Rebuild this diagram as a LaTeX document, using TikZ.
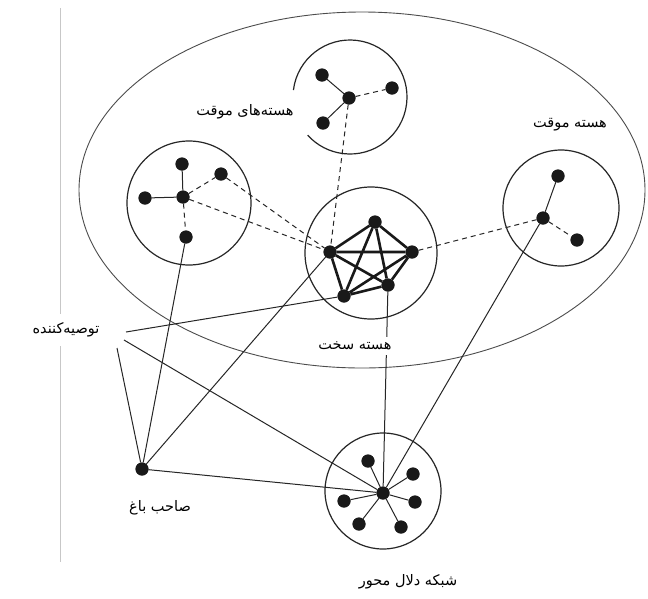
\documentclass[tikz,border=0pt]{standalone}
\usepackage{fontspec}
\TeXXeTstate=1
\newfontfamily\arabicfont[Script=Arabic]{DejaVu Sans}
\begin{document}
\begin{tikzpicture}[x=1pt,y=-1pt,
  dot/.style={circle,fill=black!90,inner sep=0pt,minimum size=13pt},
  edge/.style={line width=1pt,black!85},
  dashedge/.style={line width=1pt,black!85,dash pattern=on 5pt off 4pt},
  coreedge/.style={line width=2.6pt,black!90},
  ring/.style={line width=1.2pt,black!85},
  lbl/.style={fill=white,inner xsep=6pt,inner ysep=5pt,font=\arabicfont\fontsize{14.5}{17}\selectfont}
]
\useasboundingbox (0,0) rectangle (648,598);
\fill[white] (0,0) rectangle (648,598);
% faint frame line
\draw[black!22,line width=0.8pt] (60,8) -- (60,562);
% big ellipse
\draw[black!70,line width=0.9pt] (362,190) ellipse [x radius=283, y radius=178];
% cluster rings
\draw[ring] (350,97) ++(187:57) arc[start angle=187, end angle=498, radius=57];
\draw[ring] (189,203) circle [radius=62];
\draw[ring] (371,253) circle [radius=66];
\draw[ring] (561,208) circle [radius=58];
\draw[ring] (383,491) circle [radius=58];

% nodes: top temporary core
\node[dot] (t0) at (349,98) {};
\node[dot] (t1) at (322,75) {};
\node[dot] (t2) at (392,88) {};
\node[dot] (t3) at (323,123) {};
% left cluster
\node[dot] (l0) at (183,197) {};
\node[dot] (l1) at (182,164) {};
\node[dot] (l2) at (145,198) {};
\node[dot] (l3) at (221,174) {};
\node[dot] (l4) at (186,237) {};
% hard core
\node[dot] (h1) at (375,222) {};
\node[dot] (h2) at (412,252) {};
\node[dot] (h3) at (388,285) {};
\node[dot] (h4) at (344,296) {};
\node[dot] (h5) at (330,252) {};
% right temporary core
\node[dot] (r0) at (543,218) {};
\node[dot] (r1) at (558,176) {};
\node[dot] (r2) at (577,240) {};
% broker network
\node[dot] (b0) at (383,493) {};
\node[dot] (b1) at (368,461) {};
\node[dot] (b2) at (413,474) {};
\node[dot] (b3) at (415,502) {};
\node[dot] (b4) at (401,527) {};
\node[dot] (b5) at (359,524) {};
\node[dot] (b6) at (344,501) {};
% garden owner
\node[dot] (g) at (142,469) {};
% recommender line ends
\coordinate (rA) at (126,332);
\coordinate (rB) at (124,340);
\coordinate (rC) at (117,348);

% top cluster edges
\draw[edge] (t0) -- (t1);
\draw[edge] (t0) -- (t3);
\draw[dashedge] (t0) -- (t2);
\draw[dashedge] (t0) -- (h5);
% left cluster edges
\draw[edge] (l0) -- (l1);
\draw[edge] (l0) -- (l2);
\draw[dashedge] (l0) -- (l3);
\draw[dashedge] (l0) -- (l4);
\draw[dashedge] (l3) -- (h5);
\draw[dashedge] (l0) -- (h5);
% hard core complete graph
\draw[coreedge] (h1) -- (h2) (h1) -- (h3) (h1) -- (h4) (h1) -- (h5)
  (h2) -- (h3) (h2) -- (h4) (h2) -- (h5)
  (h3) -- (h4) (h3) -- (h5) (h4) -- (h5);
% right cluster
\draw[dashedge] (h2) -- (r0);
\draw[edge] (r0) -- (r1);
\draw[dashedge] (r0) -- (r2);
\draw[edge] (r0) -- (b0);
\draw[edge] (h3) -- (b0);
% broker spokes
\foreach \b in {b1,b2,b3,b4,b5,b6} \draw[edge] (b0) -- (\b);
% garden owner
\draw[edge] (g) -- (l4);
\draw[edge] (g) -- (h5);
\draw[edge] (g) -- (b0);
% recommender
\draw[edge] (rA) -- (h4);
\draw[edge] (rB) -- (b0);
\draw[edge] (rC) -- (g);

% redraw dots over edges
\foreach \n in {t0,t1,t2,t3,l0,l1,l2,l3,l4,h1,h2,h3,h4,h5,r0,r1,r2,b0,b1,b2,b3,b4,b5,b6,g}
  \fill[black!90] (\n) circle [radius=6.5];

% labels
\node[lbl] (lt) at (245,112) {\beginR هسته‌های موقت\endR};
\node[lbl] (lr) at (570,125) {\beginR هسته موقت\endR};
\node[lbl] (lh) at (355,346) {\beginR هسته سخت\endR};
\node[lbl,inner xsep=10pt,inner ysep=9pt] (lrec) at (66,330) {\beginR توصیه‌کننده\endR};
\node[lbl] (lg) at (160,508) {\beginR صاحب باغ\endR};
\node[lbl] (lb) at (408,582) {\beginR شبکه دلال محور\endR};
\end{tikzpicture}
\end{document}
